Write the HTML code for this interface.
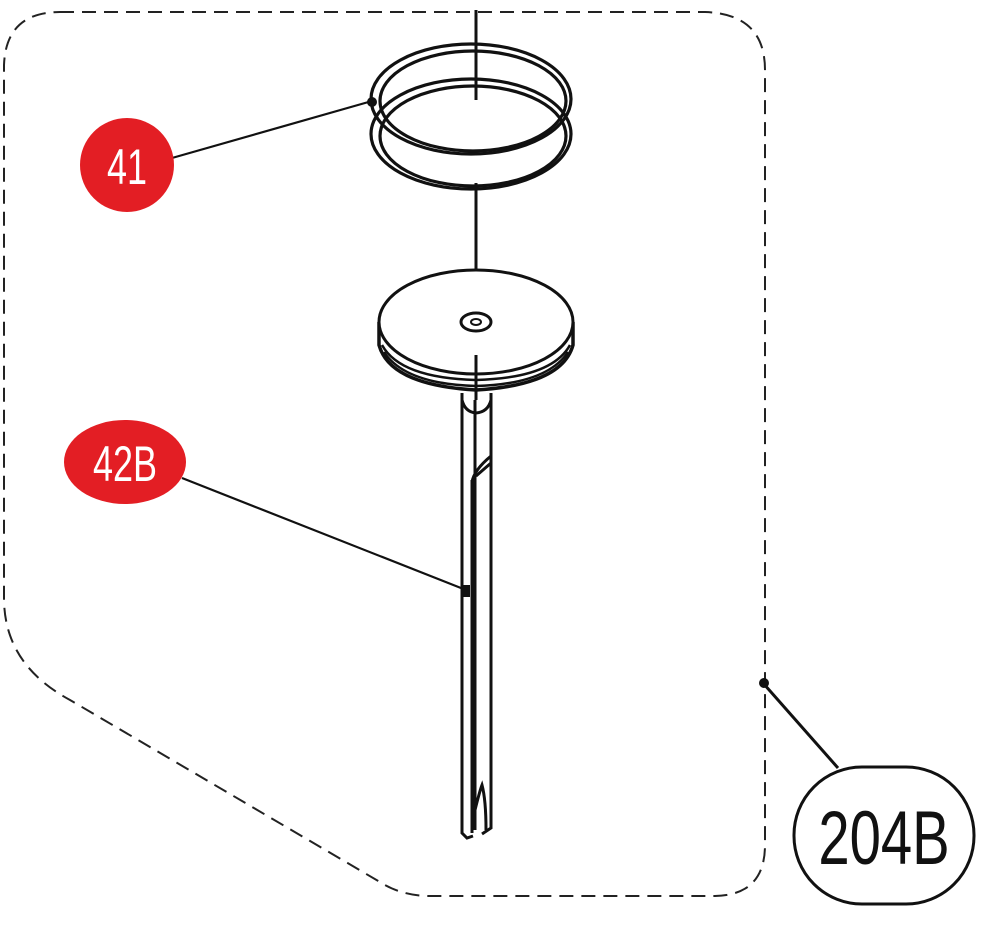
<!DOCTYPE html>
<html><head><meta charset="utf-8"><style>
html,body{margin:0;padding:0;background:#fff;}
svg{display:block;}
text{font-family:"Liberation Sans",sans-serif;}
</style></head><body>
<svg width="1000" height="930" viewBox="0 0 1000 930" xmlns="http://www.w3.org/2000/svg">
<!-- dashed boundary -->
<path d="M60 12 L705 12 Q765 14 765 70 L765 845 Q765 895 715 896 L430 896 Q405 896 385 885 L70 700 Q5 665 4 600 L4 65 Q6 12 60 12 Z" fill="none" stroke="#222" stroke-width="2" stroke-dasharray="14,8"/>

<!-- rings -->
<g fill="none" stroke="#111" stroke-width="3.2">
<ellipse cx="471" cy="99" rx="100" ry="55"/>
<ellipse cx="473" cy="101" rx="93" ry="50"/>
<ellipse cx="471" cy="134" rx="100" ry="55"/>
<ellipse cx="473" cy="136" rx="93" ry="50"/>
</g>
<!-- axis lines -->
<g stroke="#111" stroke-width="3">
<line x1="476" y1="10" x2="476" y2="100"/>
<line x1="476" y1="183" x2="476" y2="272"/>
</g>

<!-- disc -->
<path d="M379 322 L379 345 Q390 385 476 390 Q562 385 573 345 L573 322" fill="#fff" stroke="#111" stroke-width="3.5"/>
<path d="M382 345 Q400 378 476 380 Q552 378 570 345" fill="none" stroke="#111" stroke-width="2.5"/>
<path d="M384 352 Q405 384 476 386 Q547 384 568 352" fill="none" stroke="#111" stroke-width="2.5"/>
<ellipse cx="476" cy="322" rx="97" ry="52" fill="#fff" stroke="#111" stroke-width="3"/>
<ellipse cx="476" cy="322" rx="15" ry="9" fill="none" stroke="#111" stroke-width="3"/>
<ellipse cx="476" cy="322" rx="5" ry="3" fill="none" stroke="#111" stroke-width="2"/>
<line x1="476" y1="355" x2="476" y2="400" stroke="#111" stroke-width="3"/>

<!-- shaft -->
<g fill="none" stroke="#111" stroke-width="3">
<path d="M462 393 L462 833 L467 838 L473 836"/>
<path d="M491 393 L491 828 L482 834"/>
<path d="M462 400 Q465 412 476 413 Q488 412 491 400"/>
<path d="M472 480 L472 833"/>
<path d="M475 400 L475 830"/>
<path d="M472 482 Q474 470 491 456"/>
<path d="M476 476 L491 463"/>
<path d="M475 810 Q480 790 482 785 Q486 800 486 830"/>
</g>

<!-- leaders -->
<g stroke="#111" stroke-width="2.2">
<line x1="172" y1="158" x2="372" y2="101"/>
<line x1="182" y1="478" x2="466" y2="590"/>
<line x1="763" y1="683" x2="838" y2="768" stroke-width="3"/>
</g>
<circle cx="372" cy="102" r="5" fill="#111"/>
<rect x="462" y="585" width="8" height="12" fill="#111"/>
<circle cx="764" cy="683" r="5" fill="#111"/>

<!-- callouts -->
<circle cx="127" cy="165" r="47" fill="#e31e24"/>
<text x="127" y="184" font-size="50" fill="#fff" text-anchor="middle" transform="translate(127 0) scale(0.72 1) translate(-127 0)">41</text>
<ellipse cx="125" cy="462" rx="61" ry="42" fill="#e31e24"/>
<text x="125" y="481" font-size="50" fill="#fff" text-anchor="middle" transform="translate(125 0) scale(0.72 1) translate(-125 0)">42B</text>

<rect x="794" y="767" width="180" height="137" rx="68" ry="68" fill="#fff" stroke="#111" stroke-width="3"/>
<text x="884" y="864" font-size="76" fill="#111" text-anchor="middle" transform="translate(884 0) scale(0.74 1) translate(-884 0)">204B</text>
</svg>
</body></html>
